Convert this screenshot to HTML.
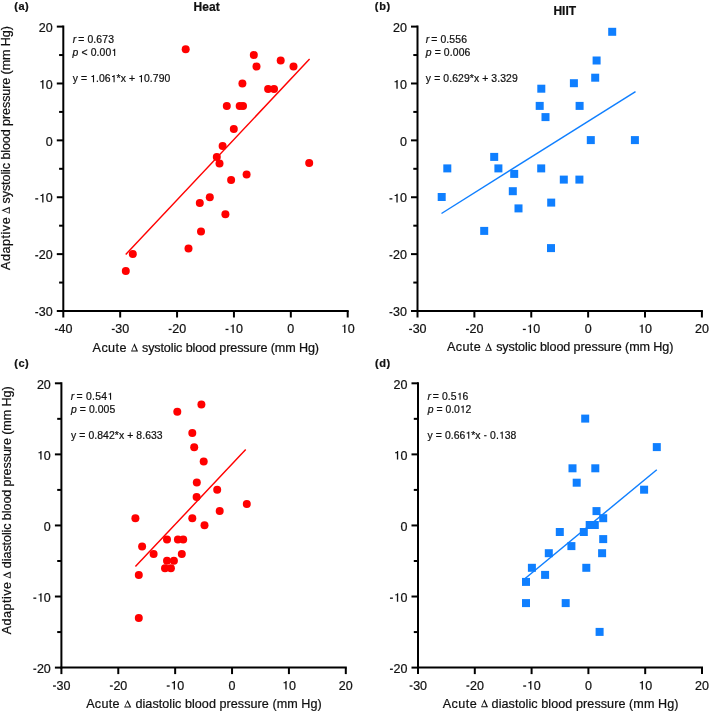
<!DOCTYPE html>
<html><head><meta charset="utf-8"><style>
html,body{margin:0;padding:0;background:#fff;}
body{width:709px;height:711px;overflow:hidden;}
svg{display:block;will-change:transform;}
text{-webkit-font-smoothing:antialiased;}
text{font-family:"Liberation Sans",sans-serif;fill:#111;stroke:#111;stroke-width:0.22px;}
.tk{font-size:12.5px;}
</style></head><body>
<svg width="709" height="711" viewBox="0 0 709 711">
<line x1="63.3" y1="25.6" x2="63.3" y2="312.0" stroke="#000" stroke-width="2"/>
<line x1="62.3" y1="311.0" x2="348.7" y2="311.0" stroke="#000" stroke-width="2"/>
<line x1="63.30" y1="311.0" x2="63.30" y2="317.5" stroke="#000" stroke-width="2"/>
<text y="333.00" font-size="12.5"><tspan x="58.43 65.38">40</tspan></text><path d="M0.050,0.232 L0.285,0.232 L0.285,0.338 L0.050,0.338 Z" transform="translate(54.27,333.00) scale(12.5,-12.5)" fill="#111"/>
<line x1="120.18" y1="311.0" x2="120.18" y2="317.5" stroke="#000" stroke-width="2"/>
<text y="333.00" font-size="12.5"><tspan x="115.31 122.26">30</tspan></text><path d="M0.050,0.232 L0.285,0.232 L0.285,0.338 L0.050,0.338 Z" transform="translate(111.15,333.00) scale(12.5,-12.5)" fill="#111"/>
<line x1="177.06" y1="311.0" x2="177.06" y2="317.5" stroke="#000" stroke-width="2"/>
<text y="333.00" font-size="12.5"><tspan x="172.19 179.14">20</tspan></text><path d="M0.050,0.232 L0.285,0.232 L0.285,0.338 L0.050,0.338 Z" transform="translate(168.03,333.00) scale(12.5,-12.5)" fill="#111"/>
<line x1="233.94" y1="311.0" x2="233.94" y2="317.5" stroke="#000" stroke-width="2"/>
<text y="333.00" font-size="12.5"><tspan x="236.02">0</tspan></text><path d="M0.050,0.232 L0.285,0.232 L0.285,0.338 L0.050,0.338 Z" transform="translate(224.91,333.00) scale(12.5,-12.5)" fill="#111"/><path d="M0.375,0 L0.375,0.688 L0.296,0.688 C0.280,0.625 0.240,0.592 0.125,0.585 L0.125,0.512 L0.270,0.512 L0.270,0 Z" transform="translate(229.07,333.00) scale(12.5,-12.5)" fill="#111"/>
<line x1="290.82" y1="311.0" x2="290.82" y2="317.5" stroke="#000" stroke-width="2"/>
<text y="333.00" font-size="12.5"><tspan x="287.34">0</tspan></text>
<line x1="347.70" y1="311.0" x2="347.70" y2="317.5" stroke="#000" stroke-width="2"/>
<text y="333.00" font-size="12.5"><tspan x="347.70">0</tspan></text><path d="M0.375,0 L0.375,0.688 L0.296,0.688 C0.280,0.625 0.240,0.592 0.125,0.585 L0.125,0.512 L0.270,0.512 L0.270,0 Z" transform="translate(340.75,333.00) scale(12.5,-12.5)" fill="#111"/>
<line x1="56.80" y1="311.00" x2="63.3" y2="311.00" stroke="#000" stroke-width="2"/>
<text y="316.20" font-size="12.5"><tspan x="38.80 45.75">30</tspan></text><path d="M0.050,0.232 L0.285,0.232 L0.285,0.338 L0.050,0.338 Z" transform="translate(34.63,316.20) scale(12.5,-12.5)" fill="#111"/>
<line x1="59.10" y1="282.56" x2="63.3" y2="282.56" stroke="#000" stroke-width="2"/>
<line x1="56.80" y1="254.12" x2="63.3" y2="254.12" stroke="#000" stroke-width="2"/>
<text y="259.32" font-size="12.5"><tspan x="38.80 45.75">20</tspan></text><path d="M0.050,0.232 L0.285,0.232 L0.285,0.338 L0.050,0.338 Z" transform="translate(34.63,259.32) scale(12.5,-12.5)" fill="#111"/>
<line x1="59.10" y1="225.68" x2="63.3" y2="225.68" stroke="#000" stroke-width="2"/>
<line x1="56.80" y1="197.24" x2="63.3" y2="197.24" stroke="#000" stroke-width="2"/>
<text y="202.44" font-size="12.5"><tspan x="45.75">0</tspan></text><path d="M0.050,0.232 L0.285,0.232 L0.285,0.338 L0.050,0.338 Z" transform="translate(34.63,202.44) scale(12.5,-12.5)" fill="#111"/><path d="M0.375,0 L0.375,0.688 L0.296,0.688 C0.280,0.625 0.240,0.592 0.125,0.585 L0.125,0.512 L0.270,0.512 L0.270,0 Z" transform="translate(38.80,202.44) scale(12.5,-12.5)" fill="#111"/>
<line x1="59.10" y1="168.80" x2="63.3" y2="168.80" stroke="#000" stroke-width="2"/>
<line x1="56.80" y1="140.36" x2="63.3" y2="140.36" stroke="#000" stroke-width="2"/>
<text y="145.56" font-size="12.5"><tspan x="45.75">0</tspan></text>
<line x1="59.10" y1="111.92" x2="63.3" y2="111.92" stroke="#000" stroke-width="2"/>
<line x1="56.80" y1="83.48" x2="63.3" y2="83.48" stroke="#000" stroke-width="2"/>
<text y="88.68" font-size="12.5"><tspan x="45.75">0</tspan></text><path d="M0.375,0 L0.375,0.688 L0.296,0.688 C0.280,0.625 0.240,0.592 0.125,0.585 L0.125,0.512 L0.270,0.512 L0.270,0 Z" transform="translate(38.80,88.68) scale(12.5,-12.5)" fill="#111"/>
<line x1="59.10" y1="55.04" x2="63.3" y2="55.04" stroke="#000" stroke-width="2"/>
<line x1="56.80" y1="26.60" x2="63.3" y2="26.60" stroke="#000" stroke-width="2"/>
<text y="31.80" font-size="12.5"><tspan x="38.80 45.75">20</tspan></text>
<line x1="125.7" y1="254.4" x2="309.6" y2="59.1" stroke="#ff0000" stroke-width="1.45"/>
<circle cx="185.7" cy="49.2" r="4" fill="#ff0000"/>
<circle cx="253.8" cy="55.0" r="4" fill="#ff0000"/>
<circle cx="256.5" cy="66.6" r="4" fill="#ff0000"/>
<circle cx="280.7" cy="60.6" r="4" fill="#ff0000"/>
<circle cx="293.5" cy="66.5" r="4" fill="#ff0000"/>
<circle cx="242.4" cy="83.5" r="4" fill="#ff0000"/>
<circle cx="268.1" cy="89.1" r="4" fill="#ff0000"/>
<circle cx="274" cy="89.1" r="4" fill="#ff0000"/>
<circle cx="226.8" cy="106" r="4" fill="#ff0000"/>
<circle cx="239.7" cy="106" r="4" fill="#ff0000"/>
<circle cx="243" cy="106" r="4" fill="#ff0000"/>
<circle cx="233.8" cy="128.9" r="4" fill="#ff0000"/>
<circle cx="222.6" cy="146.1" r="4" fill="#ff0000"/>
<circle cx="216.8" cy="157.1" r="4" fill="#ff0000"/>
<circle cx="219.5" cy="163.4" r="4" fill="#ff0000"/>
<circle cx="246.6" cy="174.4" r="4" fill="#ff0000"/>
<circle cx="231.1" cy="180.1" r="4" fill="#ff0000"/>
<circle cx="209.8" cy="197.3" r="4" fill="#ff0000"/>
<circle cx="199.8" cy="203" r="4" fill="#ff0000"/>
<circle cx="225.4" cy="214.3" r="4" fill="#ff0000"/>
<circle cx="201" cy="231.5" r="4" fill="#ff0000"/>
<circle cx="188.5" cy="248.4" r="4" fill="#ff0000"/>
<circle cx="132.8" cy="254.1" r="4" fill="#ff0000"/>
<circle cx="125.8" cy="271.1" r="4" fill="#ff0000"/>
<circle cx="309.2" cy="163" r="4" fill="#ff0000"/>
<line x1="417.5" y1="25.6" x2="417.5" y2="312.0" stroke="#000" stroke-width="2"/>
<line x1="416.5" y1="311.0" x2="702.9" y2="311.0" stroke="#000" stroke-width="2"/>
<line x1="417.50" y1="311.0" x2="417.50" y2="317.5" stroke="#000" stroke-width="2"/>
<text y="333.00" font-size="12.5"><tspan x="412.63 419.58">30</tspan></text><path d="M0.050,0.232 L0.285,0.232 L0.285,0.338 L0.050,0.338 Z" transform="translate(408.47,333.00) scale(12.5,-12.5)" fill="#111"/>
<line x1="474.38" y1="311.0" x2="474.38" y2="317.5" stroke="#000" stroke-width="2"/>
<text y="333.00" font-size="12.5"><tspan x="469.51 476.46">20</tspan></text><path d="M0.050,0.232 L0.285,0.232 L0.285,0.338 L0.050,0.338 Z" transform="translate(465.35,333.00) scale(12.5,-12.5)" fill="#111"/>
<line x1="531.26" y1="311.0" x2="531.26" y2="317.5" stroke="#000" stroke-width="2"/>
<text y="333.00" font-size="12.5"><tspan x="533.34">0</tspan></text><path d="M0.050,0.232 L0.285,0.232 L0.285,0.338 L0.050,0.338 Z" transform="translate(522.23,333.00) scale(12.5,-12.5)" fill="#111"/><path d="M0.375,0 L0.375,0.688 L0.296,0.688 C0.280,0.625 0.240,0.592 0.125,0.585 L0.125,0.512 L0.270,0.512 L0.270,0 Z" transform="translate(526.39,333.00) scale(12.5,-12.5)" fill="#111"/>
<line x1="588.14" y1="311.0" x2="588.14" y2="317.5" stroke="#000" stroke-width="2"/>
<text y="333.00" font-size="12.5"><tspan x="584.66">0</tspan></text>
<line x1="645.02" y1="311.0" x2="645.02" y2="317.5" stroke="#000" stroke-width="2"/>
<text y="333.00" font-size="12.5"><tspan x="645.02">0</tspan></text><path d="M0.375,0 L0.375,0.688 L0.296,0.688 C0.280,0.625 0.240,0.592 0.125,0.585 L0.125,0.512 L0.270,0.512 L0.270,0 Z" transform="translate(638.07,333.00) scale(12.5,-12.5)" fill="#111"/>
<line x1="701.90" y1="311.0" x2="701.90" y2="317.5" stroke="#000" stroke-width="2"/>
<text y="333.00" font-size="12.5"><tspan x="694.95 701.90">20</tspan></text>
<line x1="411.00" y1="311.00" x2="417.5" y2="311.00" stroke="#000" stroke-width="2"/>
<text y="316.20" font-size="12.5"><tspan x="393.00 399.95">30</tspan></text><path d="M0.050,0.232 L0.285,0.232 L0.285,0.338 L0.050,0.338 Z" transform="translate(388.83,316.20) scale(12.5,-12.5)" fill="#111"/>
<line x1="413.30" y1="282.56" x2="417.5" y2="282.56" stroke="#000" stroke-width="2"/>
<line x1="411.00" y1="254.12" x2="417.5" y2="254.12" stroke="#000" stroke-width="2"/>
<text y="259.32" font-size="12.5"><tspan x="393.00 399.95">20</tspan></text><path d="M0.050,0.232 L0.285,0.232 L0.285,0.338 L0.050,0.338 Z" transform="translate(388.83,259.32) scale(12.5,-12.5)" fill="#111"/>
<line x1="413.30" y1="225.68" x2="417.5" y2="225.68" stroke="#000" stroke-width="2"/>
<line x1="411.00" y1="197.24" x2="417.5" y2="197.24" stroke="#000" stroke-width="2"/>
<text y="202.44" font-size="12.5"><tspan x="399.95">0</tspan></text><path d="M0.050,0.232 L0.285,0.232 L0.285,0.338 L0.050,0.338 Z" transform="translate(388.83,202.44) scale(12.5,-12.5)" fill="#111"/><path d="M0.375,0 L0.375,0.688 L0.296,0.688 C0.280,0.625 0.240,0.592 0.125,0.585 L0.125,0.512 L0.270,0.512 L0.270,0 Z" transform="translate(393.00,202.44) scale(12.5,-12.5)" fill="#111"/>
<line x1="413.30" y1="168.80" x2="417.5" y2="168.80" stroke="#000" stroke-width="2"/>
<line x1="411.00" y1="140.36" x2="417.5" y2="140.36" stroke="#000" stroke-width="2"/>
<text y="145.56" font-size="12.5"><tspan x="399.95">0</tspan></text>
<line x1="413.30" y1="111.92" x2="417.5" y2="111.92" stroke="#000" stroke-width="2"/>
<line x1="411.00" y1="83.48" x2="417.5" y2="83.48" stroke="#000" stroke-width="2"/>
<text y="88.68" font-size="12.5"><tspan x="399.95">0</tspan></text><path d="M0.375,0 L0.375,0.688 L0.296,0.688 C0.280,0.625 0.240,0.592 0.125,0.585 L0.125,0.512 L0.270,0.512 L0.270,0 Z" transform="translate(393.00,88.68) scale(12.5,-12.5)" fill="#111"/>
<line x1="413.30" y1="55.04" x2="417.5" y2="55.04" stroke="#000" stroke-width="2"/>
<line x1="411.00" y1="26.60" x2="417.5" y2="26.60" stroke="#000" stroke-width="2"/>
<text y="31.80" font-size="12.5"><tspan x="393.00 399.95">20</tspan></text>
<line x1="441.5" y1="213.5" x2="635.5" y2="91.6" stroke="#0f7fff" stroke-width="1.45"/>
<rect x="608.20" y="27.80" width="8" height="8" fill="#0f7fff"/>
<rect x="592.60" y="56.50" width="8" height="8" fill="#0f7fff"/>
<rect x="591.20" y="73.70" width="8" height="8" fill="#0f7fff"/>
<rect x="569.90" y="79.20" width="8" height="8" fill="#0f7fff"/>
<rect x="537.30" y="84.70" width="8" height="8" fill="#0f7fff"/>
<rect x="535.70" y="101.90" width="8" height="8" fill="#0f7fff"/>
<rect x="575.60" y="101.90" width="8" height="8" fill="#0f7fff"/>
<rect x="541.50" y="113.10" width="8" height="8" fill="#0f7fff"/>
<rect x="443.30" y="164.40" width="8" height="8" fill="#0f7fff"/>
<rect x="437.70" y="193.00" width="8" height="8" fill="#0f7fff"/>
<rect x="490.20" y="152.90" width="8" height="8" fill="#0f7fff"/>
<rect x="494.40" y="164.40" width="8" height="8" fill="#0f7fff"/>
<rect x="510.20" y="169.90" width="8" height="8" fill="#0f7fff"/>
<rect x="508.80" y="187.20" width="8" height="8" fill="#0f7fff"/>
<rect x="514.50" y="204.40" width="8" height="8" fill="#0f7fff"/>
<rect x="537.20" y="164.40" width="8" height="8" fill="#0f7fff"/>
<rect x="547.20" y="198.60" width="8" height="8" fill="#0f7fff"/>
<rect x="586.80" y="136.10" width="8" height="8" fill="#0f7fff"/>
<rect x="630.90" y="136.10" width="8" height="8" fill="#0f7fff"/>
<rect x="559.80" y="175.60" width="8" height="8" fill="#0f7fff"/>
<rect x="575.40" y="175.60" width="8" height="8" fill="#0f7fff"/>
<rect x="547.00" y="244.10" width="8" height="8" fill="#0f7fff"/>
<rect x="480.20" y="226.90" width="8" height="8" fill="#0f7fff"/>
<line x1="61.4" y1="382.3" x2="61.4" y2="668.6" stroke="#000" stroke-width="2"/>
<line x1="60.4" y1="667.6" x2="346.8" y2="667.6" stroke="#000" stroke-width="2"/>
<line x1="61.40" y1="667.6" x2="61.40" y2="674.1" stroke="#000" stroke-width="2"/>
<text y="689.60" font-size="12.5"><tspan x="56.53 63.48">30</tspan></text><path d="M0.050,0.232 L0.285,0.232 L0.285,0.338 L0.050,0.338 Z" transform="translate(52.37,689.60) scale(12.5,-12.5)" fill="#111"/>
<line x1="118.28" y1="667.6" x2="118.28" y2="674.1" stroke="#000" stroke-width="2"/>
<text y="689.60" font-size="12.5"><tspan x="113.41 120.36">20</tspan></text><path d="M0.050,0.232 L0.285,0.232 L0.285,0.338 L0.050,0.338 Z" transform="translate(109.25,689.60) scale(12.5,-12.5)" fill="#111"/>
<line x1="175.16" y1="667.6" x2="175.16" y2="674.1" stroke="#000" stroke-width="2"/>
<text y="689.60" font-size="12.5"><tspan x="177.24">0</tspan></text><path d="M0.050,0.232 L0.285,0.232 L0.285,0.338 L0.050,0.338 Z" transform="translate(166.13,689.60) scale(12.5,-12.5)" fill="#111"/><path d="M0.375,0 L0.375,0.688 L0.296,0.688 C0.280,0.625 0.240,0.592 0.125,0.585 L0.125,0.512 L0.270,0.512 L0.270,0 Z" transform="translate(170.29,689.60) scale(12.5,-12.5)" fill="#111"/>
<line x1="232.04" y1="667.6" x2="232.04" y2="674.1" stroke="#000" stroke-width="2"/>
<text y="689.60" font-size="12.5"><tspan x="228.56">0</tspan></text>
<line x1="288.92" y1="667.6" x2="288.92" y2="674.1" stroke="#000" stroke-width="2"/>
<text y="689.60" font-size="12.5"><tspan x="288.92">0</tspan></text><path d="M0.375,0 L0.375,0.688 L0.296,0.688 C0.280,0.625 0.240,0.592 0.125,0.585 L0.125,0.512 L0.270,0.512 L0.270,0 Z" transform="translate(281.97,689.60) scale(12.5,-12.5)" fill="#111"/>
<line x1="345.80" y1="667.6" x2="345.80" y2="674.1" stroke="#000" stroke-width="2"/>
<text y="689.60" font-size="12.5"><tspan x="338.85 345.80">20</tspan></text>
<line x1="54.90" y1="667.60" x2="61.4" y2="667.60" stroke="#000" stroke-width="2"/>
<text y="672.80" font-size="12.5"><tspan x="36.90 43.85">20</tspan></text><path d="M0.050,0.232 L0.285,0.232 L0.285,0.338 L0.050,0.338 Z" transform="translate(32.73,672.80) scale(12.5,-12.5)" fill="#111"/>
<line x1="57.20" y1="632.06" x2="61.4" y2="632.06" stroke="#000" stroke-width="2"/>
<line x1="54.90" y1="596.52" x2="61.4" y2="596.52" stroke="#000" stroke-width="2"/>
<text y="601.73" font-size="12.5"><tspan x="43.85">0</tspan></text><path d="M0.050,0.232 L0.285,0.232 L0.285,0.338 L0.050,0.338 Z" transform="translate(32.73,601.73) scale(12.5,-12.5)" fill="#111"/><path d="M0.375,0 L0.375,0.688 L0.296,0.688 C0.280,0.625 0.240,0.592 0.125,0.585 L0.125,0.512 L0.270,0.512 L0.270,0 Z" transform="translate(36.90,601.73) scale(12.5,-12.5)" fill="#111"/>
<line x1="57.20" y1="560.99" x2="61.4" y2="560.99" stroke="#000" stroke-width="2"/>
<line x1="54.90" y1="525.45" x2="61.4" y2="525.45" stroke="#000" stroke-width="2"/>
<text y="530.65" font-size="12.5"><tspan x="43.85">0</tspan></text>
<line x1="57.20" y1="489.91" x2="61.4" y2="489.91" stroke="#000" stroke-width="2"/>
<line x1="54.90" y1="454.38" x2="61.4" y2="454.38" stroke="#000" stroke-width="2"/>
<text y="459.57" font-size="12.5"><tspan x="43.85">0</tspan></text><path d="M0.375,0 L0.375,0.688 L0.296,0.688 C0.280,0.625 0.240,0.592 0.125,0.585 L0.125,0.512 L0.270,0.512 L0.270,0 Z" transform="translate(36.90,459.57) scale(12.5,-12.5)" fill="#111"/>
<line x1="57.20" y1="418.84" x2="61.4" y2="418.84" stroke="#000" stroke-width="2"/>
<line x1="54.90" y1="383.30" x2="61.4" y2="383.30" stroke="#000" stroke-width="2"/>
<text y="388.50" font-size="12.5"><tspan x="36.90 43.85">20</tspan></text>
<line x1="135.4" y1="566.6" x2="245.7" y2="449.6" stroke="#ff0000" stroke-width="1.45"/>
<circle cx="177.3" cy="411.7" r="4" fill="#ff0000"/>
<circle cx="201.4" cy="404.4" r="4" fill="#ff0000"/>
<circle cx="192.3" cy="432.9" r="4" fill="#ff0000"/>
<circle cx="194.2" cy="447.3" r="4" fill="#ff0000"/>
<circle cx="203.7" cy="461.5" r="4" fill="#ff0000"/>
<circle cx="196.8" cy="482.6" r="4" fill="#ff0000"/>
<circle cx="217.2" cy="489.7" r="4" fill="#ff0000"/>
<circle cx="196.6" cy="497.1" r="4" fill="#ff0000"/>
<circle cx="246.8" cy="504" r="4" fill="#ff0000"/>
<circle cx="219.7" cy="511.1" r="4" fill="#ff0000"/>
<circle cx="135.4" cy="518.2" r="4" fill="#ff0000"/>
<circle cx="192.3" cy="518.2" r="4" fill="#ff0000"/>
<circle cx="204.5" cy="525.3" r="4" fill="#ff0000"/>
<circle cx="167" cy="539.5" r="4" fill="#ff0000"/>
<circle cx="177.9" cy="539.5" r="4" fill="#ff0000"/>
<circle cx="183.2" cy="539.5" r="4" fill="#ff0000"/>
<circle cx="142.1" cy="546.6" r="4" fill="#ff0000"/>
<circle cx="153.6" cy="553.9" r="4" fill="#ff0000"/>
<circle cx="181.8" cy="553.9" r="4" fill="#ff0000"/>
<circle cx="167" cy="560.8" r="4" fill="#ff0000"/>
<circle cx="173.9" cy="560.8" r="4" fill="#ff0000"/>
<circle cx="165" cy="568.2" r="4" fill="#ff0000"/>
<circle cx="170.9" cy="568.2" r="4" fill="#ff0000"/>
<circle cx="138.8" cy="575.1" r="4" fill="#ff0000"/>
<circle cx="138.8" cy="618" r="4" fill="#ff0000"/>
<line x1="418.0" y1="382.3" x2="418.0" y2="668.6" stroke="#000" stroke-width="2"/>
<line x1="417.0" y1="667.6" x2="703.0" y2="667.6" stroke="#000" stroke-width="2"/>
<line x1="418.00" y1="667.6" x2="418.00" y2="674.1" stroke="#000" stroke-width="2"/>
<text y="689.60" font-size="12.5"><tspan x="413.13 420.08">30</tspan></text><path d="M0.050,0.232 L0.285,0.232 L0.285,0.338 L0.050,0.338 Z" transform="translate(408.97,689.60) scale(12.5,-12.5)" fill="#111"/>
<line x1="474.80" y1="667.6" x2="474.80" y2="674.1" stroke="#000" stroke-width="2"/>
<text y="689.60" font-size="12.5"><tspan x="469.93 476.88">20</tspan></text><path d="M0.050,0.232 L0.285,0.232 L0.285,0.338 L0.050,0.338 Z" transform="translate(465.77,689.60) scale(12.5,-12.5)" fill="#111"/>
<line x1="531.60" y1="667.6" x2="531.60" y2="674.1" stroke="#000" stroke-width="2"/>
<text y="689.60" font-size="12.5"><tspan x="533.68">0</tspan></text><path d="M0.050,0.232 L0.285,0.232 L0.285,0.338 L0.050,0.338 Z" transform="translate(522.57,689.60) scale(12.5,-12.5)" fill="#111"/><path d="M0.375,0 L0.375,0.688 L0.296,0.688 C0.280,0.625 0.240,0.592 0.125,0.585 L0.125,0.512 L0.270,0.512 L0.270,0 Z" transform="translate(526.73,689.60) scale(12.5,-12.5)" fill="#111"/>
<line x1="588.40" y1="667.6" x2="588.40" y2="674.1" stroke="#000" stroke-width="2"/>
<text y="689.60" font-size="12.5"><tspan x="584.92">0</tspan></text>
<line x1="645.20" y1="667.6" x2="645.20" y2="674.1" stroke="#000" stroke-width="2"/>
<text y="689.60" font-size="12.5"><tspan x="645.20">0</tspan></text><path d="M0.375,0 L0.375,0.688 L0.296,0.688 C0.280,0.625 0.240,0.592 0.125,0.585 L0.125,0.512 L0.270,0.512 L0.270,0 Z" transform="translate(638.25,689.60) scale(12.5,-12.5)" fill="#111"/>
<line x1="702.00" y1="667.6" x2="702.00" y2="674.1" stroke="#000" stroke-width="2"/>
<text y="689.60" font-size="12.5"><tspan x="695.05 702.00">20</tspan></text>
<line x1="411.50" y1="667.60" x2="418.0" y2="667.60" stroke="#000" stroke-width="2"/>
<text y="672.80" font-size="12.5"><tspan x="393.50 400.45">20</tspan></text><path d="M0.050,0.232 L0.285,0.232 L0.285,0.338 L0.050,0.338 Z" transform="translate(389.33,672.80) scale(12.5,-12.5)" fill="#111"/>
<line x1="413.80" y1="632.06" x2="418.0" y2="632.06" stroke="#000" stroke-width="2"/>
<line x1="411.50" y1="596.52" x2="418.0" y2="596.52" stroke="#000" stroke-width="2"/>
<text y="601.73" font-size="12.5"><tspan x="400.45">0</tspan></text><path d="M0.050,0.232 L0.285,0.232 L0.285,0.338 L0.050,0.338 Z" transform="translate(389.33,601.73) scale(12.5,-12.5)" fill="#111"/><path d="M0.375,0 L0.375,0.688 L0.296,0.688 C0.280,0.625 0.240,0.592 0.125,0.585 L0.125,0.512 L0.270,0.512 L0.270,0 Z" transform="translate(393.50,601.73) scale(12.5,-12.5)" fill="#111"/>
<line x1="413.80" y1="560.99" x2="418.0" y2="560.99" stroke="#000" stroke-width="2"/>
<line x1="411.50" y1="525.45" x2="418.0" y2="525.45" stroke="#000" stroke-width="2"/>
<text y="530.65" font-size="12.5"><tspan x="400.45">0</tspan></text>
<line x1="413.80" y1="489.91" x2="418.0" y2="489.91" stroke="#000" stroke-width="2"/>
<line x1="411.50" y1="454.38" x2="418.0" y2="454.38" stroke="#000" stroke-width="2"/>
<text y="459.57" font-size="12.5"><tspan x="400.45">0</tspan></text><path d="M0.375,0 L0.375,0.688 L0.296,0.688 C0.280,0.625 0.240,0.592 0.125,0.585 L0.125,0.512 L0.270,0.512 L0.270,0 Z" transform="translate(393.50,459.57) scale(12.5,-12.5)" fill="#111"/>
<line x1="413.80" y1="418.84" x2="418.0" y2="418.84" stroke="#000" stroke-width="2"/>
<line x1="411.50" y1="383.30" x2="418.0" y2="383.30" stroke="#000" stroke-width="2"/>
<text y="388.50" font-size="12.5"><tspan x="393.50 400.45">20</tspan></text>
<line x1="525.4" y1="578.3" x2="656.8" y2="469.7" stroke="#0f7fff" stroke-width="1.45"/>
<rect x="581.20" y="414.60" width="8" height="8" fill="#0f7fff"/>
<rect x="652.80" y="443.10" width="8" height="8" fill="#0f7fff"/>
<rect x="568.50" y="464.30" width="8" height="8" fill="#0f7fff"/>
<rect x="591.30" y="464.30" width="8" height="8" fill="#0f7fff"/>
<rect x="572.70" y="478.70" width="8" height="8" fill="#0f7fff"/>
<rect x="640.10" y="485.70" width="8" height="8" fill="#0f7fff"/>
<rect x="592.50" y="507.10" width="8" height="8" fill="#0f7fff"/>
<rect x="599.20" y="514.20" width="8" height="8" fill="#0f7fff"/>
<rect x="585.70" y="521.00" width="8" height="8" fill="#0f7fff"/>
<rect x="590.80" y="521.00" width="8" height="8" fill="#0f7fff"/>
<rect x="555.80" y="528.00" width="8" height="8" fill="#0f7fff"/>
<rect x="579.80" y="528.00" width="8" height="8" fill="#0f7fff"/>
<rect x="599.20" y="535.10" width="8" height="8" fill="#0f7fff"/>
<rect x="567.40" y="542.10" width="8" height="8" fill="#0f7fff"/>
<rect x="544.80" y="549.20" width="8" height="8" fill="#0f7fff"/>
<rect x="598.10" y="549.20" width="8" height="8" fill="#0f7fff"/>
<rect x="527.90" y="563.80" width="8" height="8" fill="#0f7fff"/>
<rect x="582.30" y="563.80" width="8" height="8" fill="#0f7fff"/>
<rect x="541.10" y="570.90" width="8" height="8" fill="#0f7fff"/>
<rect x="522.00" y="577.90" width="8" height="8" fill="#0f7fff"/>
<rect x="522.00" y="599.10" width="8" height="8" fill="#0f7fff"/>
<rect x="561.70" y="599.10" width="8" height="8" fill="#0f7fff"/>
<rect x="595.60" y="627.90" width="8" height="8" fill="#0f7fff"/>
<text y="42.90" font-size="10.4"><tspan x="72.63" font-style="italic">r</tspan><tspan x="78.14 87.38 93.30 96.33 102.25 108.17">=0.673</tspan></text>
<text y="56.00" font-size="10.4"><tspan x="72.56" font-style="italic">p</tspan><tspan x="81.45 90.63 96.52 99.52 105.41">&lt;0.00</tspan></text><path d="M0.375,0 L0.375,0.688 L0.296,0.688 C0.280,0.625 0.240,0.592 0.125,0.585 L0.125,0.512 L0.270,0.512 L0.270,0 Z" transform="translate(111.30,56.00) scale(10.4,-10.4)" fill="#111"/>
<text y="82.20" font-size="10.4"><tspan x="72.77 81.03 96.02 98.99 104.85 116.58 120.71 128.96 143.96 149.82 152.79 158.66 164.52">y=.06*x+0.790</tspan></text><path d="M0.375,0 L0.375,0.688 L0.296,0.688 C0.280,0.625 0.240,0.592 0.125,0.585 L0.125,0.512 L0.270,0.512 L0.270,0 Z" transform="translate(90.15,82.20) scale(10.4,-10.4)" fill="#111"/><path d="M0.375,0 L0.375,0.688 L0.296,0.688 C0.280,0.625 0.240,0.592 0.125,0.585 L0.125,0.512 L0.270,0.512 L0.270,0 Z" transform="translate(110.72,82.20) scale(10.4,-10.4)" fill="#111"/><path d="M0.375,0 L0.375,0.688 L0.296,0.688 C0.280,0.625 0.240,0.592 0.125,0.585 L0.125,0.512 L0.270,0.512 L0.270,0 Z" transform="translate(138.09,82.20) scale(10.4,-10.4)" fill="#111"/>
<text y="42.50" font-size="10.4"><tspan x="425.73" font-style="italic">r</tspan><tspan x="431.21 440.43 446.34 449.35 455.26 461.17">=0.556</tspan></text>
<text y="55.50" font-size="10.4"><tspan x="425.76" font-style="italic">p</tspan><tspan x="434.67 443.86 449.76 452.77 458.67 464.57">=0.006</tspan></text>
<text y="82.00" font-size="10.4"><tspan x="425.87 434.14 443.29 449.16 452.14 458.01 463.89 469.76 473.90 482.17 491.31 497.18 500.16 506.03 511.91">y=0.629*x+3.329</tspan></text>
<text y="399.80" font-size="10.4"><tspan x="70.83" font-style="italic">r</tspan><tspan x="76.54 85.99 92.02 95.15 101.17">=0.54</tspan></text><path d="M0.375,0 L0.375,0.688 L0.296,0.688 C0.280,0.625 0.240,0.592 0.125,0.585 L0.125,0.512 L0.270,0.512 L0.270,0 Z" transform="translate(107.20,399.80) scale(10.4,-10.4)" fill="#111"/>
<text y="412.70" font-size="10.4"><tspan x="71.06" font-style="italic">p</tspan><tspan x="79.86 88.95 94.80 97.76 103.60 109.45">=0.005</tspan></text>
<text y="438.80" font-size="10.4"><tspan x="71.07 79.32 88.43 94.29 97.26 103.12 108.98 114.84 118.97 127.21 136.33 142.19 145.15 151.01 156.87">y=0.842*x+8.633</tspan></text>
<text y="399.80" font-size="10.4"><tspan x="427.43" font-style="italic">r</tspan><tspan x="432.84 441.98 447.85 450.83 462.57">=0.56</tspan></text><path d="M0.375,0 L0.375,0.688 L0.296,0.688 C0.280,0.625 0.240,0.592 0.125,0.585 L0.125,0.512 L0.270,0.512 L0.270,0 Z" transform="translate(456.70,399.80) scale(10.4,-10.4)" fill="#111"/>
<text y="412.70" font-size="10.4"><tspan x="427.86" font-style="italic">p</tspan><tspan x="436.48 445.40 451.16 454.02 465.54">=0.02</tspan></text><path d="M0.375,0 L0.375,0.688 L0.296,0.688 C0.280,0.625 0.240,0.592 0.125,0.585 L0.125,0.512 L0.270,0.512 L0.270,0 Z" transform="translate(459.78,412.70) scale(10.4,-10.4)" fill="#111"/>
<text y="438.70" font-size="10.4"><tspan x="427.57 435.80 444.89 450.74 453.70 459.55 471.24 475.36 490.06 495.91 504.72 510.57">y=0.66*x0.38</tspan></text><path d="M0.375,0 L0.375,0.688 L0.296,0.688 C0.280,0.625 0.240,0.592 0.125,0.585 L0.125,0.512 L0.270,0.512 L0.270,0 Z" transform="translate(465.39,438.70) scale(10.4,-10.4)" fill="#111"/><path d="M0.050,0.232 L0.285,0.232 L0.285,0.338 L0.050,0.338 Z" transform="translate(483.58,438.70) scale(10.4,-10.4)" fill="#111"/><path d="M0.375,0 L0.375,0.688 L0.296,0.688 C0.280,0.625 0.240,0.592 0.125,0.585 L0.125,0.512 L0.270,0.512 L0.270,0 Z" transform="translate(498.87,438.70) scale(10.4,-10.4)" fill="#111"/>
<text y="351.80" font-size="12.6"><tspan x="92.58 101.40 108.11 115.54 119.45">Acute</tspan></text>
<path d="M131.00,351.50 L134.53,343.30 L138.05,351.50 Z M132.15,350.60 L136.35,350.60 L134.15,345.75 Z" fill="#111" fill-rule="evenodd"/>
<text y="351.80" font-size="12.6"><tspan x="141.95 148.13 154.31 160.49 163.87 170.75 173.43 176.11 185.67 192.56 195.24 202.12 209.01 219.28 226.16 230.24 237.13 243.31 249.49 256.37 260.45 270.71 274.79 285.16 298.92 307.90 314.79">systolicbloodpressure(mmHg)</tspan></text>
<text y="350.90" font-size="12.6"><tspan x="447.03 455.81 462.49 469.87 473.75">Acute</tspan></text>
<path d="M485.10,350.80 L488.55,342.80 L492.00,350.80 Z M486.25,349.90 L490.30,349.90 L488.17,345.25 Z" fill="#111" fill-rule="evenodd"/>
<text y="350.90" font-size="12.6"><tspan x="496.15 502.34 508.52 514.71 518.09 524.99 527.67 530.36 539.93 546.82 549.51 556.40 563.30 573.58 580.47 584.55 591.45 597.63 603.82 610.71 614.79 625.07 629.16 639.54 653.31 662.29 669.19">systolicbloodpressure(mmHg)</tspan></text>
<text y="707.80" font-size="12.6"><tspan x="86.18 94.87 101.46 108.76 112.55">Acute</tspan></text>
<path d="M124.10,707.50 L127.70,699.90 L131.30,707.50 Z M125.25,706.60 L129.60,706.60 L127.33,702.35 Z" fill="#111" fill-rule="evenodd"/>
<text y="707.80" font-size="12.6"><tspan x="135.47 142.52 145.36 152.42 158.76 162.30 169.35 172.20 175.04 184.93 191.98 194.82 201.87 208.92 219.52 226.57 230.81 237.86 244.20 250.54 257.60 261.83 272.43 276.67 287.21 301.29 310.43 317.49">diastolicbloodpressure(mmHg)</tspan></text>
<text y="707.50" font-size="12.6"><tspan x="442.78 451.62 458.36 465.81 469.75">Acute</tspan></text>
<path d="M481.00,707.20 L484.50,699.20 L488.00,707.20 Z M482.15,706.30 L486.30,706.30 L484.12,701.65 Z" fill="#111" fill-rule="evenodd"/>
<text y="707.50" font-size="12.6"><tspan x="491.57 498.64 501.51 508.58 514.95 518.52 525.59 528.45 531.32 541.25 548.33 551.19 558.26 565.34 575.98 583.05 587.31 594.39 600.75 607.12 614.19 618.45 629.09 633.36 643.92 658.05 667.21 674.29">diastolicbloodpressure(mmHg)</tspan></text>
<text y="9.70" font-size="12.6" transform="rotate(-90)"><tspan x="-269.92 -261.01 -253.50 -245.98 -238.47 -234.46 -231.15 -224.35">Adaptive</tspan></text>
<g transform="rotate(-90)"><path d="M-213.80,9.80 L-210.25,1.40 L-206.70,9.80 Z M-212.65,8.90 L-208.40,8.90 L-210.62,3.85 Z" fill="#111" fill-rule="evenodd"/></g>
<text y="9.70" font-size="12.6" transform="rotate(-90)"><tspan x="-203.45 -197.26 -191.07 -184.88 -181.49 -174.59 -171.90 -169.21 -159.62 -152.73 -150.04 -143.14 -136.24 -125.95 -119.05 -114.96 -108.06 -101.87 -95.68 -88.78 -84.70 -74.41 -70.32 -59.93 -46.15 -37.16 -30.26">systolicbloodpressure(mmHg)</tspan></text>
<text y="10.70" font-size="12.6" transform="rotate(-90)"><tspan x="-634.32 -625.44 -617.96 -610.47 -602.98 -599.00 -595.73 -588.95">Adaptive</tspan></text>
<g transform="rotate(-90)"><path d="M-578.50,10.70 L-575.00,2.60 L-571.50,10.70 Z M-577.35,9.80 L-573.20,9.80 L-575.38,5.05 Z" fill="#111" fill-rule="evenodd"/></g>
<text y="10.70" font-size="12.6" transform="rotate(-90)"><tspan x="-568.13 -561.22 -558.53 -551.62 -545.42 -542.02 -535.12 -532.42 -529.72 -520.13 -513.22 -510.52 -503.62 -496.71 -486.41 -479.50 -475.41 -468.50 -462.30 -456.10 -449.20 -445.10 -434.80 -430.70 -420.31 -406.52 -397.52 -390.61">diastolicbloodpressure(mmHg)</tspan></text>
<text y="10.20" font-size="11"><tspan x="14.15 18.39 25.08" font-weight="bold">(a)</tspan></text>
<text y="10.20" font-size="11"><tspan x="374.75 379.14 386.58" font-weight="bold">(b)</tspan></text>
<text y="366.90" font-size="11"><tspan x="14.15 18.39 25.08" font-weight="bold">(c)</tspan></text>
<text y="367.20" font-size="11"><tspan x="374.95 379.24 386.58" font-weight="bold">(d)</tspan></text>
<text y="10.90" font-size="12"><tspan x="193.50 202.28 209.06 215.85" font-weight="bold">Heat</tspan></text>
<text y="14.70" font-size="12"><tspan x="553.40 562.05 565.38 568.70" font-weight="bold">HIIT</tspan></text>
</svg>
</body></html>
